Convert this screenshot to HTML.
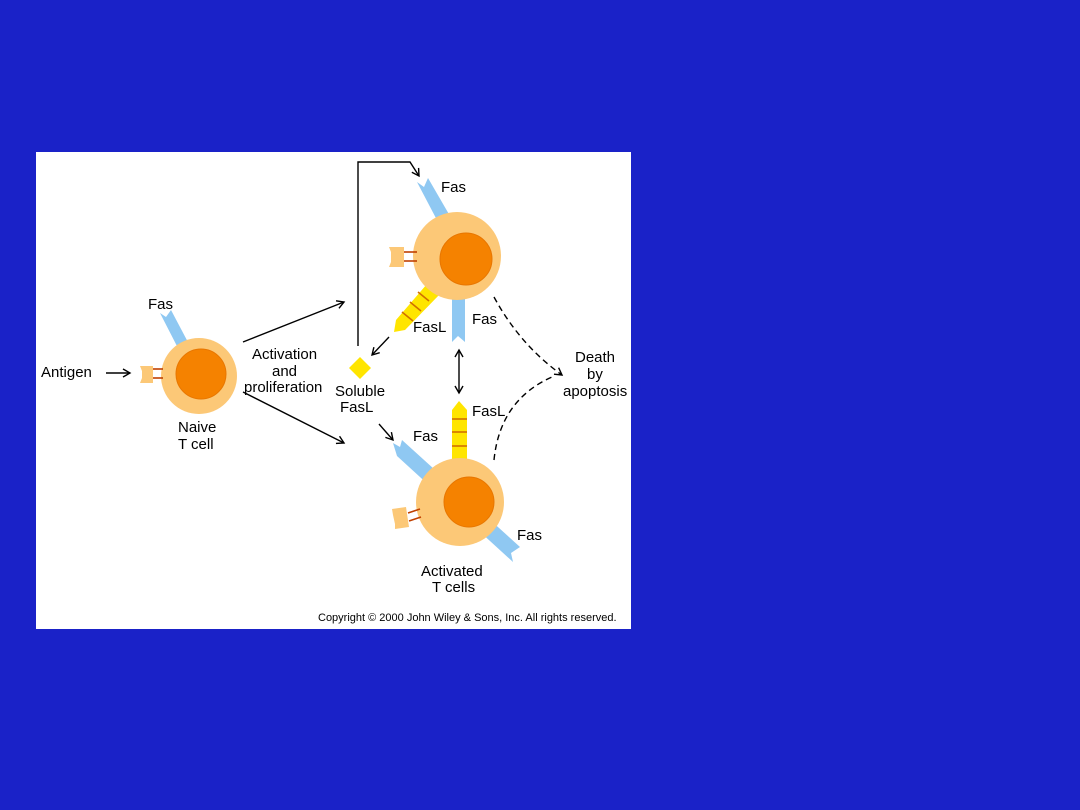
<!DOCTYPE html>
<html><head><style>
body{margin:0;background:#1a22c8;width:1080px;height:810px;overflow:hidden}
svg{position:absolute;left:0;top:0}
text{font-family:"Liberation Sans",sans-serif;font-size:15px;fill:#000}
</style></head><body>
<svg width="1080" height="810" viewBox="0 0 1080 810">
<defs>
<marker id="a" markerWidth="10" markerHeight="10" refX="8" refY="5" orient="auto" markerUnits="userSpaceOnUse"><path d="M1,1 L8,5 L1,9" fill="none" stroke="#000" stroke-width="1.4"/></marker>
<marker id="b" markerWidth="10" markerHeight="10" refX="2" refY="5" orient="auto" markerUnits="userSpaceOnUse"><path d="M9,1 L2,5 L9,9" fill="none" stroke="#000" stroke-width="1.4"/></marker>
</defs>
<rect x="36" y="152" width="595" height="477" fill="#fff"/>
<!-- Naive cell -->
<polygon points="160,313 166,317 171,310 190,346 180,352" fill="#8fc8f2"/>
<circle cx="199" cy="376" r="38" fill="#fcc877"/>
<circle cx="201" cy="374" r="25" fill="#f58200" stroke="#e87600"/>
<line x1="152" y1="369" x2="163" y2="369" stroke="#c04000" stroke-width="1.6"/>
<line x1="152" y1="378" x2="163" y2="378" stroke="#c04000" stroke-width="1.6"/>
<path d="M140,366 h13 v17 h-13 l2,-5 v-7 z" fill="#fcc877"/>
<!-- top cell -->
<polygon points="417,182 424,187 428,178 450,216 438,222" fill="#8fc8f2"/>
<rect x="452" y="290" width="13" height="53" fill="#8fc8f2"/>
<polygon points="452,342 458,336 465,342 465,345 452,345" fill="#fff"/>
<polygon points="427,284 440,294 405,330 394,332 396,320" fill="#ffe500"/>
<line x1="418" y1="292" x2="429" y2="301" stroke="#d07000" stroke-width="1.6"/>
<line x1="410" y1="302" x2="421" y2="311" stroke="#d07000" stroke-width="1.6"/>
<line x1="402" y1="312" x2="413" y2="321" stroke="#d07000" stroke-width="1.6"/>
<circle cx="457" cy="256" r="44" fill="#fcc877"/>
<circle cx="466" cy="259" r="26" fill="#f58200" stroke="#e87600"/>
<line x1="404" y1="252" x2="417" y2="252" stroke="#c04000" stroke-width="1.6"/>
<line x1="404" y1="261" x2="417" y2="261" stroke="#c04000" stroke-width="1.6"/>
<path d="M389,247 h15 v20 h-15 l2,-5 v-10 z" fill="#fcc877"/>
<!-- bottom cell -->
<polygon points="393,443 400,447 402,440 520,547 511,553 513,562 397,456" fill="#8fc8f2"/>
<polygon points="452,410 459,401 467,410 467,462 452,462" fill="#ffe500"/>
<line x1="452" y1="419" x2="467" y2="419" stroke="#d07000" stroke-width="1.6"/>
<line x1="452" y1="432" x2="467" y2="432" stroke="#d07000" stroke-width="1.6"/>
<line x1="452" y1="446" x2="467" y2="446" stroke="#d07000" stroke-width="1.6"/>
<circle cx="460" cy="502" r="44" fill="#fcc877"/>
<circle cx="469" cy="502" r="25" fill="#f58200" stroke="#e87600"/>
<line x1="408" y1="513" x2="420" y2="509" stroke="#c04000" stroke-width="1.6"/>
<line x1="409" y1="521" x2="421" y2="517" stroke="#c04000" stroke-width="1.6"/>
<path d="M392,509 l14,-2 l3,20 l-14,2 l0,-5 l-2,-9 z" fill="#fcc877"/>
<!-- diamond -->
<polygon points="360,357 371,368 360,379 349,368" fill="#ffe500"/>
<!-- arrows -->
<g stroke="#000" stroke-width="1.4" fill="none">
<line x1="106" y1="373" x2="130" y2="373" marker-end="url(#a)"/>
<line x1="243" y1="342" x2="344" y2="302" marker-end="url(#a)"/>
<line x1="243" y1="392" x2="344" y2="443" marker-end="url(#a)"/>
<polyline points="358,346 358,162 410,162 419,176" marker-end="url(#a)"/>
<line x1="389" y1="337" x2="372" y2="355" marker-end="url(#a)"/>
<line x1="379" y1="424" x2="393" y2="440" marker-end="url(#a)"/>
<line x1="459" y1="350" x2="459" y2="393" marker-start="url(#b)" marker-end="url(#a)"/>
<path d="M494,297 Q520,345 562,375" stroke-dasharray="6,4" marker-end="url(#a)"/>
<path d="M494,460 Q500,400 552,377" stroke-dasharray="6,4"/>
</g>
<text x="148" y="309">Fas</text>
<text x="41" y="377">Antigen</text>
<text x="178" y="432">Naive</text>
<text x="178" y="449">T cell</text>
<text x="252" y="359">Activation</text>
<text x="272" y="376">and</text>
<text x="244" y="392">proliferation</text>
<text x="335" y="396">Soluble</text>
<text x="340" y="412">FasL</text>
<text x="441" y="192">Fas</text>
<text x="413" y="332">FasL</text>
<text x="472" y="324">Fas</text>
<text x="575" y="362">Death</text>
<text x="587" y="379">by</text>
<text x="563" y="396">apoptosis</text>
<text x="472" y="416">FasL</text>
<text x="413" y="441">Fas</text>
<text x="517" y="540">Fas</text>
<text x="421" y="576">Activated</text>
<text x="432" y="592">T cells</text>
<text x="318" y="621" style="font-size:11px">Copyright © 2000 John Wiley &amp; Sons, Inc.  All rights reserved.</text>
</svg>
</body></html>
